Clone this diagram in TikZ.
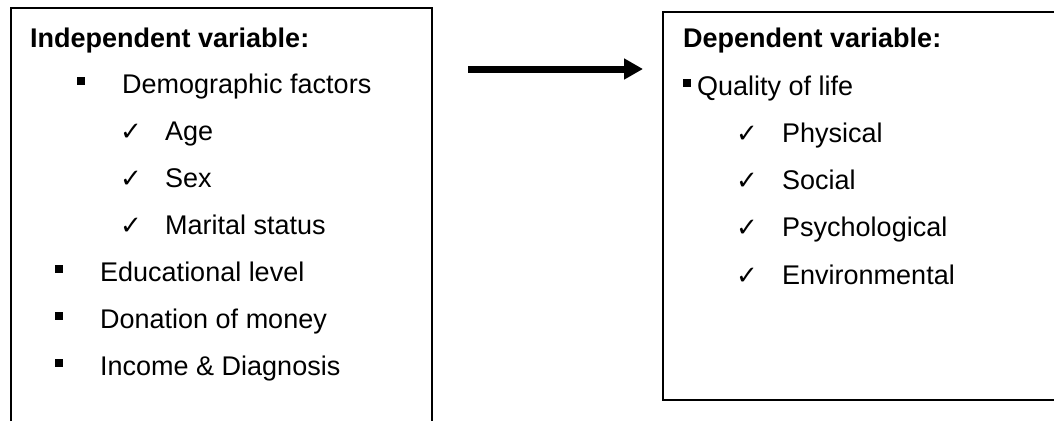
\documentclass[tikz,border=0pt]{standalone}
\usepackage{fontspec}
\setmainfont{Liberation Sans}
\newfontfamily\symfont{DejaVu Sans}
\usetikzlibrary{arrows.meta}
\begin{document}
\begin{tikzpicture}[x=1pt,y=-1pt,
  txt/.style={anchor=base west, inner sep=0pt, font=\fontsize{27}{32}\selectfont},
  ttl/.style={txt, font=\fontsize{27}{32}\selectfont\bfseries},
  sq/.style={anchor=base west, inner sep=0pt, font=\fontsize{27}{32}\selectfont},
  chk/.style={anchor=base west, inner sep=0pt, font=\fontsize{26}{30}\selectfont\symfont},
  frame/.style={line width=2pt, draw=black},
  flow/.style={line width=7pt, -{Triangle[length=19pt,width=20pt]}}]
\useasboundingbox (0,0) rectangle (1054,421);
% left box (open at the bottom)
\coordinate (lbl) at (11,421);
\coordinate (ltl) at (11,8);
\coordinate (ltr) at (432,8);
\coordinate (lbr) at (432,421);
\draw[frame] (lbl) -- (ltl) -- (ltr) -- (lbr);
% right box (open at the right edge)
\coordinate (rtr) at (1056,12);
\coordinate (rtl) at (663,12);
\coordinate (rbl) at (663,400);
\coordinate (rbr) at (1056,400);
\draw[frame] (rtr) -- (rtl) -- (rbl) -- (rbr);
% left texts
\node[ttl] (ltitle) at (30,47) {Independent variable:};
\node[sq] (b1) at (77,93) {\rule[8pt]{8pt}{8pt}};
\node[txt] (t1) at (122,93) {Demographic factors};
\node[chk] (c1) at (120,140) {✓};
\node[txt] (t2) at (165,140) {Age};
\node[chk] (c2) at (120,187) {✓};
\node[txt] (t3) at (165,187) {Sex};
\node[chk] (c3) at (120,234) {✓};
\node[txt] (t4) at (165,234) {Marital status};
\node[sq] (b2) at (55,281) {\rule[8pt]{8pt}{8pt}};
\node[txt] (t5) at (100,281) {Educational level};
\node[sq] (b3) at (55,328) {\rule[8pt]{8pt}{8pt}};
\node[txt] (t6) at (100,328) {Donation of money};
\node[sq] (b4) at (55,375) {\rule[8pt]{8pt}{8pt}};
\node[txt] (t7) at (100,375) {Income \& Diagnosis};
% right texts
\node[ttl] (rtitle) at (683,47) {Dependent variable:};
\node[sq] (rb1) at (683,95) {\rule[8pt]{8pt}{8pt}};
\node[txt] (r1) at (697,95) {Quality of life};
\node[chk] (rc1) at (736,142) {✓};
\node[txt] (r2) at (782,142) {Physical};
\node[chk] (rc2) at (736,189) {✓};
\node[txt] (r3) at (782,189) {Social};
\node[chk] (rc3) at (736,236) {✓};
\node[txt] (r4) at (782,236) {Psychological};
\node[chk] (rc4) at (736,284) {✓};
\node[txt] (r5) at (782,284) {Environmental};
% arrow
\coordinate (astart) at (468,69);
\coordinate (aend) at ([xshift=-20pt]rtl |- astart);
\draw[flow] (astart) -- (aend);
\end{tikzpicture}
\end{document}
